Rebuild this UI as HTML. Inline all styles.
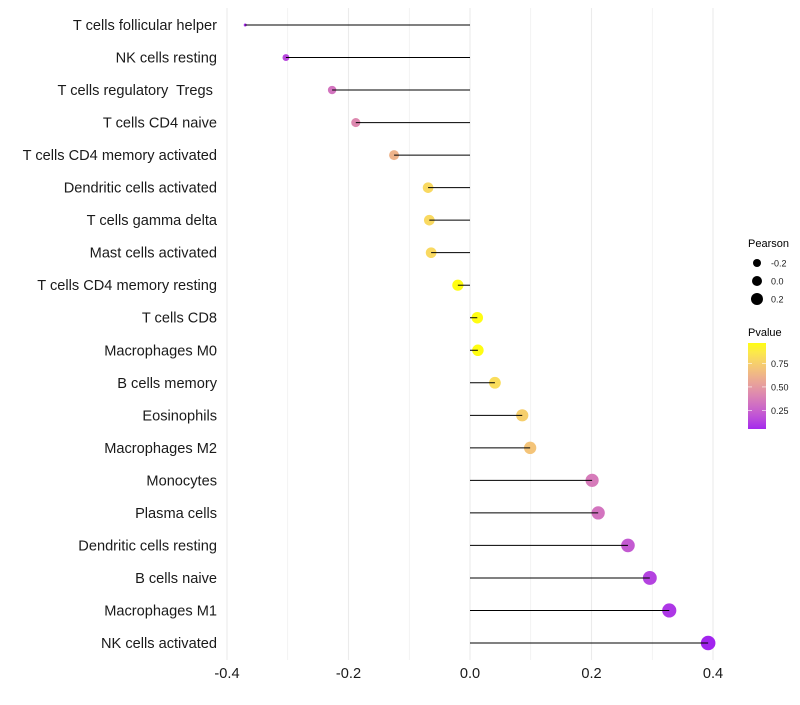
<!DOCTYPE html>
<html><head><meta charset="utf-8"><style>
body{margin:0;background:#fff;font-family:"Liberation Sans",sans-serif}
svg text{font-family:"Liberation Sans",sans-serif;white-space:pre}
</style></head><body>
<svg id="chart" width="800" height="700"></svg>
<script>
const categories=["T cells follicular helper","NK cells resting","T cells regulatory  Tregs ","T cells CD4 naive","T cells CD4 memory activated","Dendritic cells activated","T cells gamma delta","Mast cells activated","T cells CD4 memory resting","T cells CD8","Macrophages M0","B cells memory","Eosinophils","Macrophages M2","Monocytes","Plasma cells","Dendritic cells resting","B cells naive","Macrophages M1","NK cells activated"];
const pearson=[-0.370,-0.303,-0.227,-0.188,-0.125,-0.069,-0.067,-0.064,-0.020,0.012,0.013,0.041,0.086,0.099,0.201,0.211,0.260,0.296,0.328,0.392];
const pvalue=[0.06,0.15,0.33,0.42,0.62,0.80,0.80,0.80,0.97,0.97,0.97,0.82,0.75,0.70,0.36,0.33,0.22,0.13,0.09,0.04];
const xTicks=[-0.4,-0.2,0.0,0.2,0.4];
const xTickLabels=["-0.4","-0.2","0.0","0.2","0.4"];
const sizeLegend=[-0.2,0.0,0.2];
const colorLegend=[0.25,0.50,0.75];

const NS="http://www.w3.org/2000/svg";
const svg=document.getElementById('chart');
function mk(t,a,p){const e=document.createElementNS(NS,t);for(const k in a)e.setAttribute(k,a[k]);(p||svg).appendChild(e);return e;}
const x=v=>470+v*607.5;
const y=i=>25+i*(618/19);
const vmin=Math.min(...pearson),vmax=Math.max(...pearson);
const rad=v=>1.5+5.8*Math.pow(Math.max(0,(v-vmin)/(vmax-vmin)),0.45);
function toLab(h){let r=parseInt(h.substr(1,2),16)/255,g=parseInt(h.substr(3,2),16)/255,b=parseInt(h.substr(5,2),16)/255;
 [r,g,b]=[r,g,b].map(c=>c>0.04045?Math.pow((c+0.055)/1.055,2.4):c/12.92);
 let X=(r*0.4124+g*0.3576+b*0.1805)/0.95047,Y=r*0.2126+g*0.7152+b*0.0722,Z=(r*0.0193+g*0.1192+b*0.9505)/1.08883;
 const f=t=>t>0.008856?Math.cbrt(t):7.787*t+16/116;X=f(X);Y=f(Y);Z=f(Z);return [116*Y-16,500*(X-Y),200*(Y-Z)];}
function fromLab(L,a,b){let Y=(L+16)/116,X=a/500+Y,Z=Y-b/200;const fi=t=>t*t*t>0.008856?t*t*t:(t-16/116)/7.787;
 X=fi(X)*0.95047;Y=fi(Y);Z=fi(Z)*1.08883;
 let r=X*3.2406+Y*-1.5372+Z*-0.4986,g=X*-0.9689+Y*1.8758+Z*0.0415,bb=X*0.0557+Y*-0.2040+Z*1.0570;
 return 'rgb('+[r,g,bb].map(c=>{c=c>0.0031308?1.055*Math.pow(c,1/2.4)-0.055:12.92*c;return Math.round(Math.min(1,Math.max(0,c))*255)}).join(',')+')';}
const lo=toLab("#a020f0"),hi=toLab("#ffff00"),pmin=0.03,pmax=0.98;
const col=p=>{let t=Math.min(1,Math.max(0,(p-pmin)/(pmax-pmin)));return fromLab(lo[0]+(hi[0]-lo[0])*t,lo[1]+(hi[1]-lo[1])*t,lo[2]+(hi[2]-lo[2])*t);};

for(let k=-4;k<=4;k++){const v=k/10;const g=mk('line',{x1:x(v),x2:x(v),y1:8,y2:660,stroke:'#ebebeb','stroke-width':Math.abs(k)%2?0.6:1.1});}
categories.forEach((c,i)=>{
 const g=mk('g',{});
 const pt=mk('circle',{cx:x(pearson[i]),cy:y(i),r:rad(pearson[i]),fill:col(pvalue[i])},g);
 const ln=mk('line',{x1:x(0),x2:x(pearson[i]),y1:y(i),y2:y(i),stroke:'#000','stroke-width':1},g);
 const t=mk('text',{x:217,y:y(i)+5,'text-anchor':'end','font-size':14.6,fill:'#1a1a1a'},g);t.textContent=c;
});
xTicks.forEach((v,i)=>{const t=mk('text',{x:x(v),y:678,'text-anchor':'middle','font-size':14.6,fill:'#1a1a1a'});t.textContent=xTickLabels[i];});
let t=mk('text',{x:748,y:247,'font-size':11,fill:'#000'});t.textContent='Pearson';
sizeLegend.forEach((v,i)=>{const cy=263+i*18;const c=mk('circle',{cx:757,cy:cy,r:4+i,fill:'#000'});
 const l=mk('text',{x:771,y:cy+3.5,'font-size':9,fill:'#1a1a1a'});l.textContent=v.toFixed(1);});
t=mk('text',{x:748,y:336,'font-size':11,fill:'#000'});t.textContent='Pvalue';
const defs=mk('defs',{});const lg=mk('linearGradient',{id:'pg',x1:0,y1:1,x2:0,y2:0},defs);
for(let k=0;k<=10;k++){const p=0.05+k*0.092;mk('stop',{offset:k/10,'stop-color':col(p)},lg);}
const cb=mk('rect',{x:748,y:343,width:18,height:86,fill:'url(#pg)'});
const py=p=>429-(p-0.05)/0.92*86;
colorLegend.forEach(p=>{mk('line',{x1:748,x2:752,y1:py(p),y2:py(p),stroke:'#fff','stroke-width':0.6});mk('line',{x1:762,x2:766,y1:py(p),y2:py(p),stroke:'#fff','stroke-width':0.6});
 const l=mk('text',{x:771,y:py(p)+3.5,'font-size':9,fill:'#1a1a1a'});l.textContent=p.toFixed(2);});
</script>
</body></html>
